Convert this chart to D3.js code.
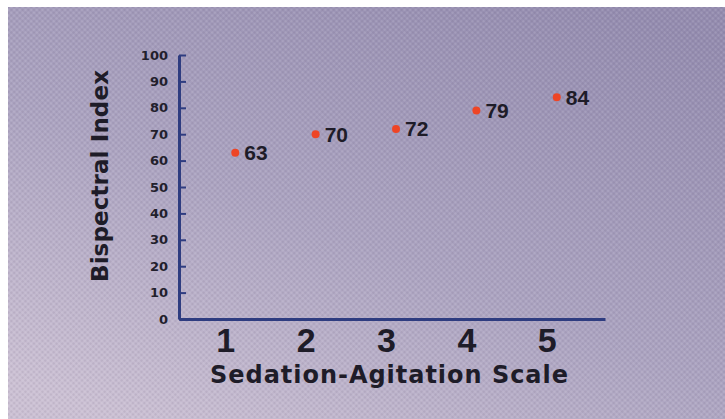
<!DOCTYPE html>
<html>
<head>
<meta charset="utf-8">
<script src="https://cdn.jsdelivr.net/npm/d3@7"></script>
<style>
  html, body { margin: 0; padding: 0; background: #ffffff; }
  svg { display: block; }
</style>
</head>
<body>
<svg id="chart" width="725" height="419"></svg>
<script>
// Sedation-Agitation Scale level vs. mean Bispectral Index
const categories = [1, 2, 3, 4, 5];
const bisValues = [63, 70, 72, 79, 84];
const yTicks = [0, 10, 20, 30, 40, 50, 60, 70, 80, 90, 100];
const xTitle = "Sedation-Agitation Scale";
const yTitle = "Bispectral Index";

const svg = d3.select("#chart");
const W = 725, H = 419;

// Panel background: lavender-grey gradient with a thin white margin top/left
const defs = svg.append("defs");
const grad = defs.append("linearGradient")
  .attr("id", "bg").attr("x1", "85%").attr("y1", "0%").attr("x2", "15%").attr("y2", "100%");
grad.append("stop").attr("offset", "0%").attr("stop-color", "#948caf");
grad.append("stop").attr("offset", "55%").attr("stop-color", "#aba3c0");
grad.append("stop").attr("offset", "100%").attr("stop-color", "#cbc0d3");

// fine woven texture over the panel
const pat = defs.append("pattern")
  .attr("id", "weave").attr("width", 4).attr("height", 4)
  .attr("patternUnits", "userSpaceOnUse").attr("patternTransform", "rotate(45)");
pat.append("rect").attr("width", 2).attr("height", 2).attr("fill", "#ffffff").attr("opacity", 0.10);
pat.append("rect").attr("x", 2).attr("y", 2).attr("width", 2).attr("height", 2).attr("fill", "#3a3050").attr("opacity", 0.08);

svg.append("rect").attr("x", 8).attr("y", 7).attr("width", W - 8).attr("height", H - 7).attr("fill", "url(#bg)");
svg.append("rect").attr("x", 8).attr("y", 7).attr("width", W - 8).attr("height", H - 7).attr("fill", "url(#weave)");

// Scales
const x = d3.scaleLinear().domain([0.3, 5.6]).range([179, 605]);
const y = d3.scaleLinear().domain([0, 100]).range([319, 55]);

const axisColor = "#2e3c80";

// Y axis: ticks point inward (right), labels on the left
const yAxis = svg.append("g")
  .attr("transform", `translate(${x.range()[0]},0)`)
  .call(d3.axisLeft(y).tickValues(yTicks).tickSizeInner(-7).tickSizeOuter(0).tickPadding(11));
yAxis.select(".domain").attr("stroke", axisColor).attr("stroke-width", 3);
yAxis.selectAll(".tick line").attr("stroke", axisColor).attr("stroke-width", 2);
yAxis.selectAll(".tick text")
  .attr("fill", "#22202c")
  .style("font-family", "'DejaVu Sans', sans-serif")
  .style("font-weight", "bold")
  .style("font-size", "13px");

// X axis: plain baseline with large category numbers
const xAxis = svg.append("g")
  .attr("transform", `translate(0,${y(0)})`)
  .call(d3.axisBottom(x).tickValues(categories).tickSize(0).tickPadding(9).tickFormat(d3.format("d")));
xAxis.select(".domain").attr("stroke", axisColor).attr("stroke-width", 3);
xAxis.selectAll(".tick text")
  .attr("x", -10)
  .attr("fill", "#1e1c28")
  .style("font-family", "'Liberation Sans', Arial, sans-serif")
  .style("font-weight", "bold")
  .style("font-size", "34px");

// Axis titles
svg.append("text")
  .attr("x", 389).attr("y", 383)
  .attr("text-anchor", "middle")
  .attr("textLength", 358).attr("lengthAdjust", "spacing")
  .attr("fill", "#1e1c28")
  .style("font-family", "'DejaVu Sans', sans-serif")
  .style("font-weight", "bold")
  .style("font-size", "24px")
  .text(xTitle);

svg.append("text")
  .attr("transform", "translate(108,176) rotate(-90)")
  .attr("text-anchor", "middle")
  .attr("textLength", 212).attr("lengthAdjust", "spacing")
  .attr("fill", "#1e1c28")
  .style("font-family", "'DejaVu Sans', sans-serif")
  .style("font-weight", "bold")
  .style("font-size", "23px")
  .text(yTitle);

// Points with value labels
const data = categories.map((c, i) => ({ c, v: bisValues[i] }));
const pts = svg.append("g").selectAll("g").data(data).join("g");
pts.append("circle")
  .attr("cx", d => x(d.c)).attr("cy", d => y(d.v))
  .attr("r", 4)
  .attr("fill", "#ee4526");
pts.append("text")
  .attr("x", d => x(d.c) + 9).attr("y", d => y(d.v))
  .attr("dy", "0.36em")
  .attr("fill", "#1e1c28")
  .style("font-family", "'Liberation Sans', Arial, sans-serif")
  .style("font-weight", "bold")
  .style("font-size", "21px")
  .text(d => d.v);
</script>
</body>
</html>
